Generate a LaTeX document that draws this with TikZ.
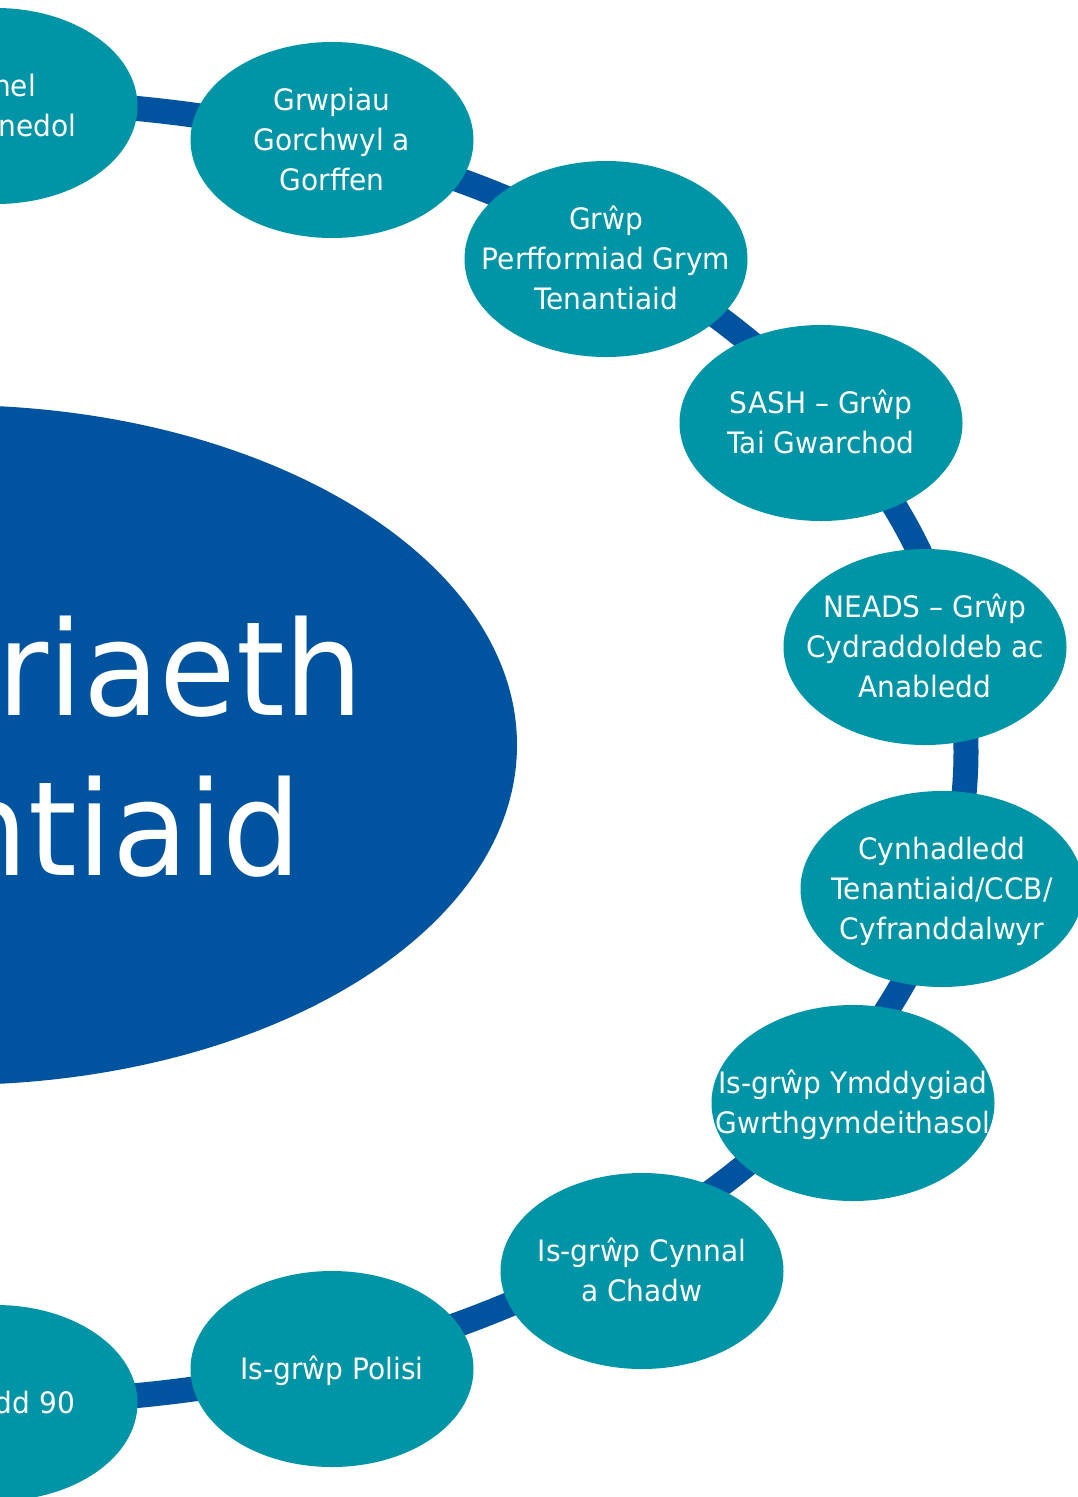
\documentclass[tikz,border=0pt]{standalone}
\usepackage{fontspec}
\setmainfont{DejaVu Sans}[FakeStretch=0.95]
\usetikzlibrary{shapes.geometric}
\definecolor{navy}{RGB}{0,83,159}
\definecolor{tealgrp}{RGB}{0,148,167}
\newcommand{\tline}[1]{\smash{\makebox[0pt]{#1}}}
\newcommand{\capstrut}{\rule{0pt}{21.5pt}}
\begin{document}
\begin{tikzpicture}[x=1pt,y=-1pt,
  ring/.style={draw=navy, line width=25pt},
  hubnode/.style={ellipse, fill=navy, minimum width=1132pt, minimum height=680pt, inner sep=0pt},
  group/.style={ellipse, fill=tealgrp, minimum width=283pt, minimum height=196pt, inner sep=0pt,
    text=white, align=center, font=\fontsize{29.5}{40}\selectfont},
  bigtext/.style={text=white, inner sep=0pt, font=\fontsize{131}{160}\selectfont, anchor=base east}]
\fill[white] (0,0) rectangle (1078,1497);
\useasboundingbox (0,0) rectangle (1078,1497);
\coordinate (ringc) at (0,752);
\draw[ring] (ringc) ellipse [x radius=966, y radius=650];
\node[hubnode] (hub) at (-49,745) {};
\node[bigtext] (hubA) at (364,715) {riaeth};
\node[bigtext] (hubB) at (302,875) {ntiaid};
\node[group] (panel) at (-4,106) {\capstrut\tline{\makebox[0pt][l]{\hspace{40pt}\llap{nel}}}\\\tline{\makebox[0pt][l]{\hspace{80pt}\llap{nedol}}}};
\node[group] (tfg) at (332,140) {\capstrut\tline{Grwpiau}\\\tline{Gorchwyl a}\\\tline{Gorffen}};
\node[group] (tpg) at (606,259) {\capstrut\tline{Grŵp}\\\tline{Perfformiad Grym}\\\tline{Tenantiaid}};
\node[group] (sash) at (821,423) {\capstrut\tline{SASH – Grŵp}\\\tline{Tai Gwarchod}};
\node[group] (neads) at (925,647) {\capstrut\tline{NEADS – Grŵp}\\\tline{Cydraddoldeb ac}\\\tline{Anabledd}};
\node[group] (conf) at (942,889) {\capstrut\tline{Cynhadledd}\\\tline{Tenantiaid/CCB/}\\\tline{Cyfranddalwyr}};
\node[group] (asb) at (853,1103) {\capstrut\tline{Is-grŵp Ymddygiad}\\\tline{Gwrthgymdeithasol}};
\node[group] (maint) at (642,1271) {\capstrut\tline{Is-grŵp Cynnal}\\\tline{a Chadw}};
\node[group] (policy) at (332,1369) {\capstrut\tline{Is-grŵp Polisi}};
\node[group] (bottom) at (-4,1403) {\capstrut\tline{\makebox[0pt][l]{\hspace{79pt}\llap{dd 90}}}};
\end{tikzpicture}
\end{document}
